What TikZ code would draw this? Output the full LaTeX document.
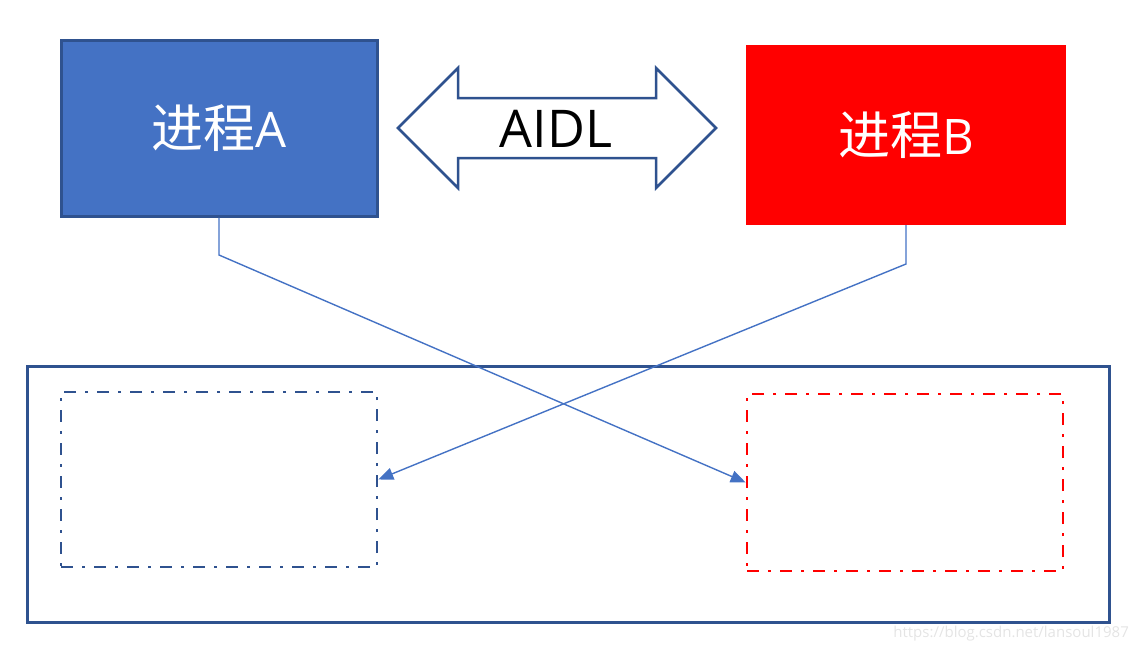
\documentclass[tikz,border=0pt]{standalone}
\usepackage{fontspec}
\setmainfont{Open Sans}
\newfontfamily\cjk{Noto Sans CJK SC}
\usetikzlibrary{positioning, arrows.meta, calc}
\definecolor{procblue}{RGB}{68,114,196}
\definecolor{edgeblue}{RGB}{47,82,143}
\definecolor{procred}{RGB}{255,0,0}
\definecolor{markgray}{RGB}{228,228,228}

\tikzset{
  procbox/.style={rectangle, inner sep=0pt, text=white},
  slotbox/.style={rectangle, inner sep=0pt, line width=2.6pt,
    dash pattern=on 12pt off 9pt on 3pt off 9pt},
  link/.style={procblue, line width=1.4pt, -{Triangle[length=15pt, width=12pt]}}
}

\begin{document}
\begin{tikzpicture}[x=1pt, y=-1pt]
  \useasboundingbox (0,0) rectangle (1137,653);

  % two processes
  \node[procbox, fill=procblue, draw=edgeblue, line width=3pt,
        minimum width=316pt, minimum height=176pt] (procA) at (219,128)
    {{\cjk\fontsize{52}{54}\selectfont 进程}{\fontsize{49}{50}\selectfont A}};
  \node[procbox, fill=procred, minimum width=320pt, minimum height=180pt]
    (procB) at (906,135)
    {{\cjk\fontsize{52}{54}\selectfont 进程}{\fontsize{49}{50}\selectfont B}};

  % AIDL double arrow
  \draw[edgeblue, line width=2.5pt, fill=white, line join=miter]
    (398,128) -- (458,68) -- (458,98) -- (656,98) -- (656,68) -- (716,128)
    -- (656,188) -- (656,158) -- (458,158) -- (458,188) -- cycle;
  \node (aidl) at (556,129) {\fontsize{52}{54}\selectfont AIDL};

  % shared area
  \node[rectangle, draw=edgeblue, line width=3pt, inner sep=0pt,
        minimum width=1082pt, minimum height=256pt] (shared) at (568.5,494.5) {};
  \node[slotbox, draw=edgeblue, minimum width=316pt, minimum height=175pt]
    (slotA) at (219,479.5) {};
  \node[slotbox, draw=procred, minimum width=316pt, minimum height=177pt]
    (slotB) at (905,482.5) {};

  % crossing links
  \coordinate (bendA) at (219,255);
  \coordinate (bendB) at (906,264);
  \draw[link] (procA.south) -- (bendA) -- (slotB.west);
  \draw[link] (procB.south) -- (bendB) -- (slotA.east);

  \node[anchor=east, text=markgray, inner sep=0pt] (mark) at (1129,634)
    {\fontsize{15}{16}\selectfont https://blog.csdn.net/lansoul1987};
\end{tikzpicture}
\end{document}
